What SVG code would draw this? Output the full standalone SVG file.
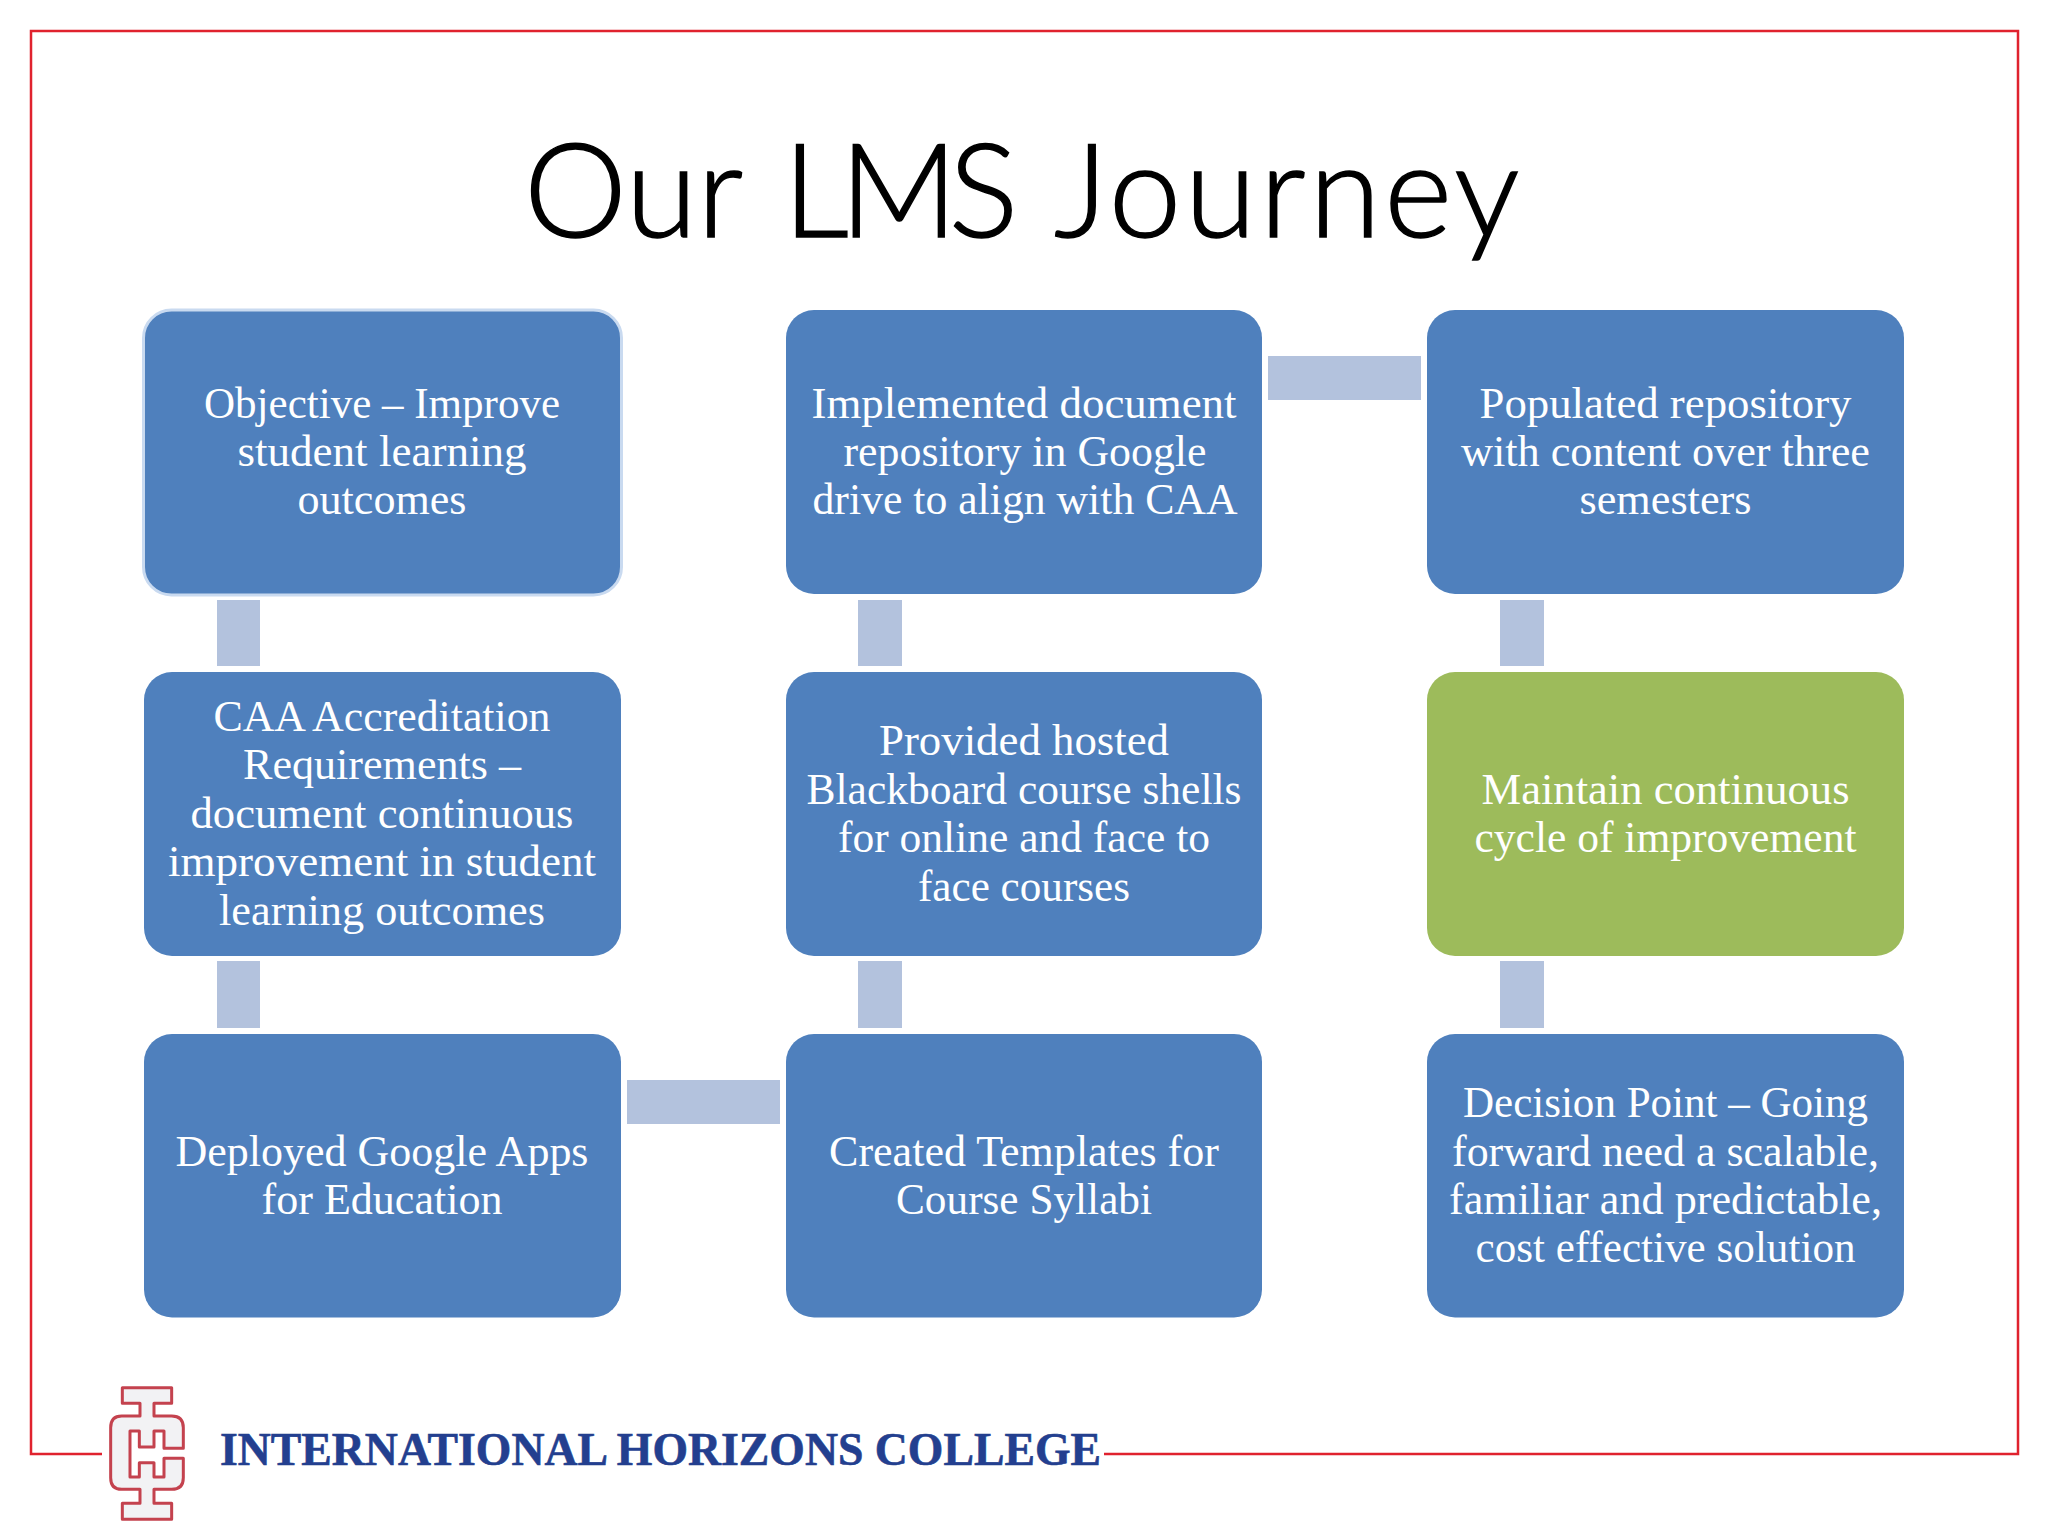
<svg xmlns="http://www.w3.org/2000/svg" width="2048" height="1536" viewBox="0 0 2048 1536">
<style>
.box{fill:#4f80bd}
.green{fill:#9dbb5b}
.conn{fill:#b3c2dd}
.frame{fill:none;stroke:#e0222e;stroke-width:2.5}
.t{font-family:"Liberation Serif","Noto Serif",serif;font-size:45px;fill:#fff;text-anchor:middle}
</style>
<rect width="2048" height="1536" fill="#fff"/>
<path id="frame" class="frame" d="M102,1454 H31 V31 H2018 V1454 H1104"/>
<text id="title" y="237" font-family="Lato,'Liberation Sans',sans-serif" font-weight="300" font-size="130" fill="#000" stroke="#000" stroke-width="1.5"><tspan x="524">Our</tspan> <tspan x="783" letter-spacing="-9">LMS</tspan> <tspan x="1054" letter-spacing="3.500">Journey</tspan></text>
<g id="connectors">
<rect class="conn" x="217" y="600" width="43" height="66"/>
<rect class="conn" x="217" y="961" width="43" height="67"/>
<rect class="conn" x="627" y="1080" width="153" height="44"/>
<rect class="conn" x="858" y="961" width="44" height="67"/>
<rect class="conn" x="858" y="600" width="44" height="66"/>
<rect class="conn" x="1268" y="356" width="153" height="44"/>
<rect class="conn" x="1500" y="600" width="44" height="66"/>
<rect class="conn" x="1500" y="961" width="44" height="67"/>
</g>
<g id="n1"><rect class="box" x="143.500" y="310" width="478" height="285" rx="28" stroke="#c9daf0" stroke-width="3"/>
<text class="t" x="382" y="418" textLength="356" lengthAdjust="spacingAndGlyphs">Objective – Improve</text>
<text class="t" x="382" y="466" textLength="289" lengthAdjust="spacingAndGlyphs">student learning</text>
<text class="t" x="382" y="514" textLength="169" lengthAdjust="spacingAndGlyphs">outcomes</text></g>
<g id="n2"><rect class="box" x="144" y="672" width="477" height="284" rx="28"/>
<text class="t" x="382" y="731" textLength="337" lengthAdjust="spacingAndGlyphs">CAA Accreditation</text>
<text class="t" x="382" y="779" textLength="278" lengthAdjust="spacingAndGlyphs">Requirements –</text>
<text class="t" x="382" y="828" textLength="383" lengthAdjust="spacingAndGlyphs">document continuous</text>
<text class="t" x="382" y="876" textLength="428" lengthAdjust="spacingAndGlyphs">improvement in student</text>
<text class="t" x="382" y="925" textLength="326" lengthAdjust="spacingAndGlyphs">learning outcomes</text></g>
<g id="n3"><rect class="box" x="144" y="1034" width="477" height="283.500" rx="28"/>
<text class="t" x="382" y="1166" textLength="413" lengthAdjust="spacingAndGlyphs">Deployed Google Apps</text>
<text class="t" x="382" y="1214" textLength="241" lengthAdjust="spacingAndGlyphs">for Education</text></g>
<g id="n4"><rect class="box" x="786" y="1034" width="476" height="283.500" rx="28"/>
<text class="t" x="1024" y="1166" textLength="390" lengthAdjust="spacingAndGlyphs">Created Templates for</text>
<text class="t" x="1024" y="1214" textLength="256" lengthAdjust="spacingAndGlyphs">Course Syllabi</text></g>
<g id="n5"><rect class="box" x="786" y="672" width="476" height="284" rx="28"/>
<text class="t" x="1024" y="755" textLength="290" lengthAdjust="spacingAndGlyphs">Provided hosted</text>
<text class="t" x="1024" y="804" textLength="435" lengthAdjust="spacingAndGlyphs">Blackboard course shells</text>
<text class="t" x="1024" y="852" textLength="372" lengthAdjust="spacingAndGlyphs">for online and face to</text>
<text class="t" x="1024" y="901" textLength="212" lengthAdjust="spacingAndGlyphs">face courses</text></g>
<g id="n6"><rect class="box" x="786" y="310" width="476" height="284" rx="28"/>
<text class="t" x="1024" y="418" textLength="425" lengthAdjust="spacingAndGlyphs">Implemented document</text>
<text class="t" x="1025" y="466" textLength="363" lengthAdjust="spacingAndGlyphs">repository in Google</text>
<text class="t" x="1025" y="514" textLength="425" lengthAdjust="spacingAndGlyphs">drive to align with CAA</text></g>
<g id="n7"><rect class="box" x="1427" y="310" width="477" height="284" rx="28"/>
<text class="t" x="1665.500" y="418" textLength="372" lengthAdjust="spacingAndGlyphs">Populated repository</text>
<text class="t" x="1665.500" y="466" textLength="409" lengthAdjust="spacingAndGlyphs">with content over three</text>
<text class="t" x="1665.500" y="514" textLength="172" lengthAdjust="spacingAndGlyphs">semesters</text></g>
<g id="n8"><rect class="green" x="1427" y="672" width="477" height="284" rx="28"/>
<text class="t" x="1665.500" y="804" textLength="368" lengthAdjust="spacingAndGlyphs">Maintain continuous</text>
<text class="t" x="1665.500" y="852" textLength="382" lengthAdjust="spacingAndGlyphs">cycle of improvement</text></g>
<g id="n9"><rect class="box" x="1427" y="1034" width="477" height="283.500" rx="28"/>
<text class="t" x="1665.500" y="1117" textLength="405" lengthAdjust="spacingAndGlyphs">Decision Point – Going</text>
<text class="t" x="1665.500" y="1166" textLength="427" lengthAdjust="spacingAndGlyphs">forward need a scalable,</text>
<text class="t" x="1665.500" y="1214" textLength="433" lengthAdjust="spacingAndGlyphs">familiar and predictable,</text>
<text class="t" x="1665.500" y="1262" textLength="380" lengthAdjust="spacingAndGlyphs">cost effective solution</text></g>
<g id="logo">
<path transform="translate(90,1371) scale(0.3333)" fill="#f2f2f4" stroke="#c4424e" stroke-width="9" stroke-linejoin="round" d="M97,50 H245 V97 H192 V135 H245 Q280,135 280,170 V232 H222 V180 H192 V228 H148 V180 H120 V318 H148 V275 H192 V318 H222 V262 H280 V320 Q280,355 245,355 H192 V397 H245 V445 H97 V397 H150 V355 H95 Q62,355 62,320 V170 Q62,135 95,135 H150 V97 H97 Z"/>
<text x="220" y="1465" font-family="'Liberation Serif',serif" font-weight="700" font-size="47" textLength="881" lengthAdjust="spacingAndGlyphs" fill="#233f8f" stroke="#233f8f" stroke-width="0.600">INTERNATIONAL HORIZONS COLLEGE</text>
</g>
</svg>
